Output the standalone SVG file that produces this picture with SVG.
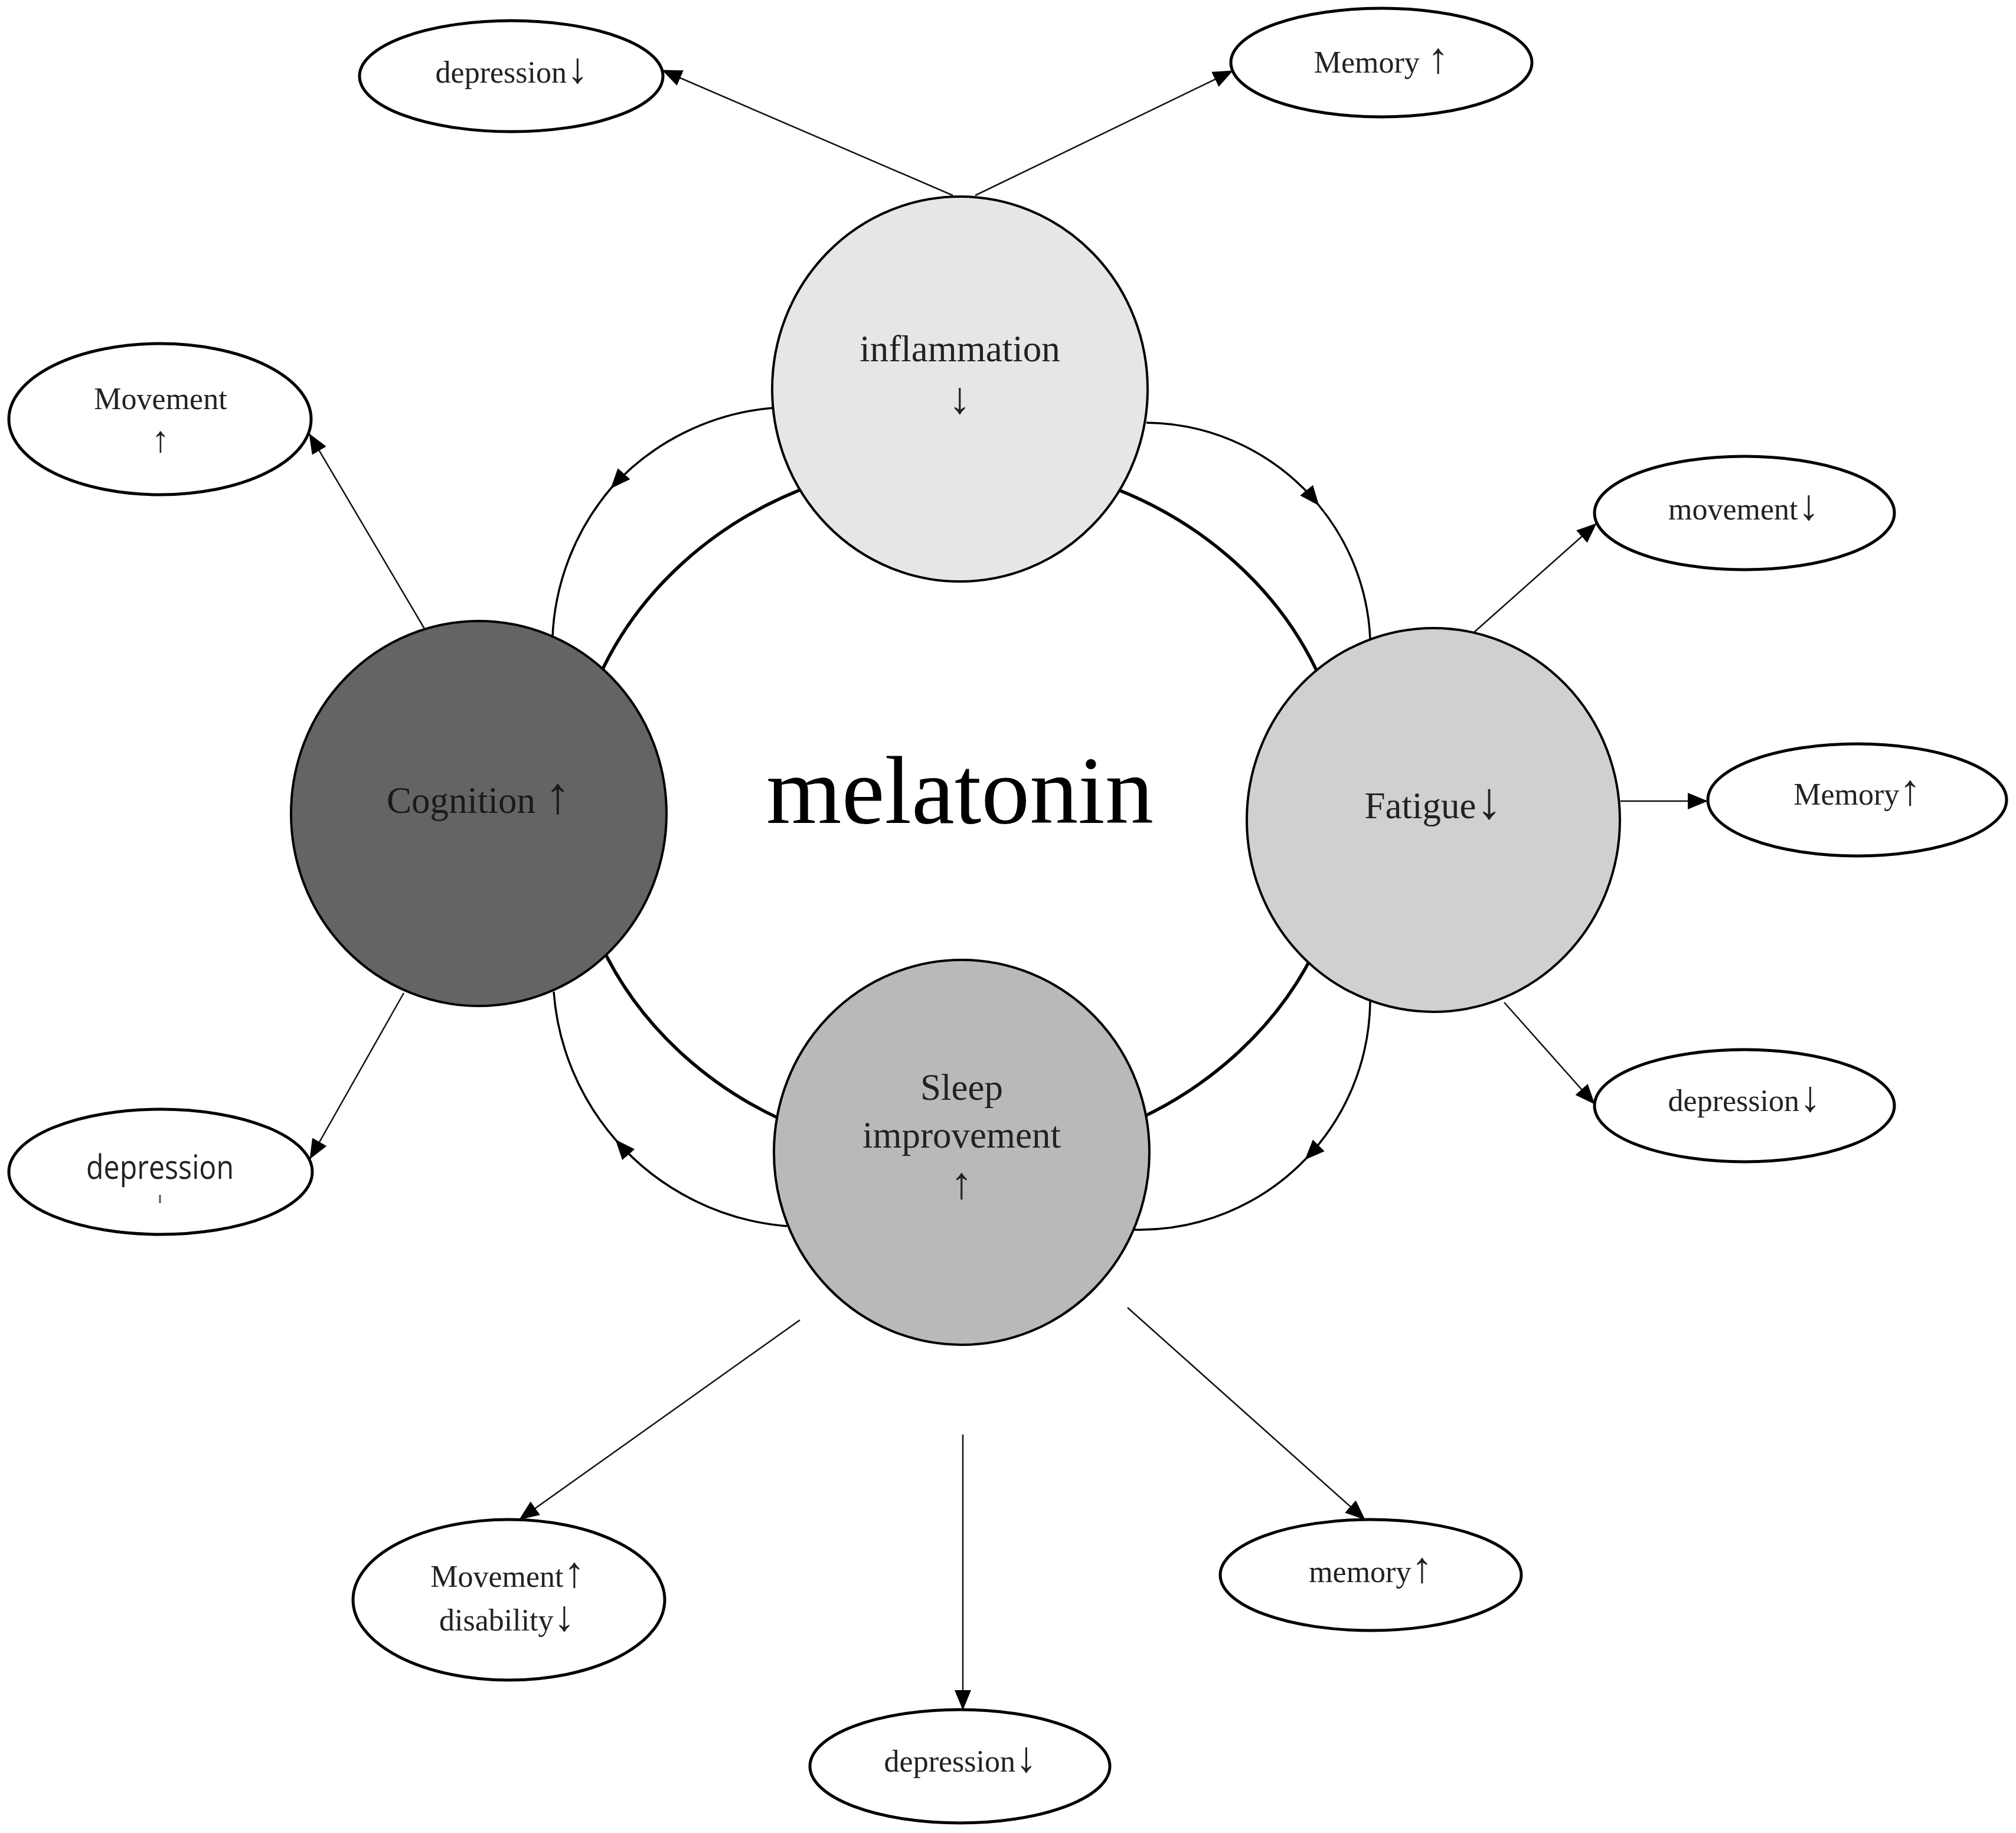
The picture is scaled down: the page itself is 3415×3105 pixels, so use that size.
<svg xmlns="http://www.w3.org/2000/svg" width="3415" height="3105" viewBox="0 0 3415 3105">
<defs>
<marker id="ah" markerUnits="userSpaceOnUse" markerWidth="34" markerHeight="30" viewBox="0 0 34 30" refX="33" refY="15" orient="auto">
<path d="M0,1 L34,15 L0,29 Z" fill="#000"/>
</marker>
<style>
.bg{fill:#fff}
.lbl{fill:#fff;stroke:#000;stroke-width:5}
.node{stroke:#000;stroke-width:4}
.t{font-family:"Liberation Serif","Times New Roman",serif;text-anchor:middle;fill:#222}
.ts{font-size:52px}
.tn{font-size:63px}
.a{font-size:140%}
.arr{fill:none;stroke:#111;stroke-width:2.5;marker-end:url(#ah)}
.arc{fill:none;stroke:#000;stroke-width:3.5}
.arcm{fill:none;stroke:#000;stroke-width:3.5;marker-end:url(#ah)}
.ring{fill:none;stroke:#000;stroke-width:5.5}
</style>
</defs>
<rect class="bg" x="0" y="0" width="3415" height="3105"/>

<g id="connectors">
<ellipse class="ring" cx="1625" cy="1370" rx="659" ry="592"/>
<path class="arcm" d="M1309,691 A416,416 0 0,0 1035,827"/>
<path class="arc" d="M1035,827 A416,416 0 0,0 936,1078"/>
<path class="arcm" d="M1942,716 A382,382 0 0,1 2234,856"/>
<path class="arc" d="M2234,856 A382,382 0 0,1 2321,1082"/>
<path class="arcm" d="M2321,1696 A391,391 0 0,1 2211,1964"/>
<path class="arc" d="M2211,1964 A391,391 0 0,1 1920,2083"/>
<path class="arcm" d="M1333,2077 A431,431 0 0,1 1043,1931"/>
<path class="arc" d="M1043,1931 A431,431 0 0,1 938,1680"/>
<line class="arr" x1="1614" y1="331" x2="1122" y2="119"/>
<line class="arr" x1="1652" y1="331" x2="2088" y2="120"/>
<line class="arr" x1="719" y1="1065" x2="524" y2="735"/>
<line class="arr" x1="684" y1="1682" x2="525" y2="1963"/>
<line class="arr" x1="2497" y1="1071" x2="2704" y2="887"/>
<line class="arr" x1="2745" y1="1357" x2="2892" y2="1357"/>
<line class="arr" x1="2548" y1="1698" x2="2701" y2="1870"/>
<line class="arr" x1="1355" y1="2236" x2="880" y2="2574"/>
<line class="arr" x1="1631" y1="2430" x2="1631" y2="2896"/>
<line class="arr" x1="1910" y1="2215" x2="2312" y2="2574"/>
</g>

<g id="node-inflammation">
<ellipse class="node" cx="1626" cy="659" rx="318" ry="326" fill="#e6e6e6"/>
<text class="t tn" x="1626" y="612">inflammation</text>
<text class="t" x="1626" y="700" style="font-size:76px">↓</text>
</g>
<g id="node-cognition">
<ellipse class="node" cx="811" cy="1378" rx="318" ry="326" fill="#646464"/>
<text class="t tn" x="811" y="1377" style="fill:#1a1a1a">Cognition <tspan class="a">↑</tspan></text>
</g>
<g id="node-fatigue">
<ellipse class="node" cx="2428" cy="1389" rx="316" ry="325" fill="#d0d0d0"/>
<text class="t tn" x="2428" y="1386">Fatigue<tspan class="a">↓</tspan></text>
</g>
<g id="node-sleep">
<ellipse class="node" cx="1629" cy="1952" rx="318" ry="326" fill="#b9b9b9"/>
<text class="t tn" x="1629" y="1863">Sleep</text>
<text class="t tn" x="1629" y="1944">improvement</text>
<text class="t" x="1629" y="2030" style="font-size:76px">↑</text>
</g>
<g id="node-melatonin">
<text class="t" x="1626" y="1394" style="font-size:164px;fill:#000">melatonin</text>
</g>

<g id="label-depression-top">
<ellipse class="lbl" cx="866" cy="129" rx="257" ry="94"/>
<text class="t ts" x="867" y="140">depression<tspan class="a">↓</tspan></text>
</g>
<g id="label-memory-top">
<ellipse class="lbl" cx="2340" cy="106" rx="255" ry="92"/>
<text class="t ts" x="2340" y="123">Memory <tspan class="a">↑</tspan></text>
</g>
<g id="label-movement-left">
<ellipse class="lbl" cx="271" cy="710" rx="256" ry="128"/>
<text class="t ts" x="272" y="693">Movement</text>
<text class="t" x="272" y="765" style="font-size:62px">↑</text>
</g>
<g id="label-depression-left">
<ellipse class="lbl" cx="272" cy="1985" rx="257" ry="106"/>
<text x="271" y="1997" text-anchor="middle" textLength="250" lengthAdjust="spacingAndGlyphs" style="font-family:'Open Sans','Liberation Sans',sans-serif;font-size:56px;fill:#222">depression</text>
<line x1="271" y1="2024" x2="271" y2="2038" stroke="#555" stroke-width="3"/>
</g>
<g id="label-movement-right">
<ellipse class="lbl" cx="2955" cy="869" rx="254" ry="96"/>
<text class="t ts" x="2954" y="880">movement<tspan class="a">↓</tspan></text>
</g>
<g id="label-memory-right">
<ellipse class="lbl" cx="3146" cy="1355" rx="253" ry="95"/>
<text class="t ts" x="3146" y="1363">Memory<tspan class="a">↑</tspan></text>
</g>
<g id="label-depression-right">
<ellipse class="lbl" cx="2955" cy="1873" rx="254" ry="95"/>
<text class="t ts" x="2955" y="1882">depression<tspan class="a">↓</tspan></text>
</g>
<g id="label-movement-disability">
<ellipse class="lbl" cx="862" cy="2710" rx="264" ry="136"/>
<text class="t ts" x="860" y="2688">Movement<tspan class="a">↑</tspan></text>
<text class="t ts" x="859" y="2762">disability<tspan class="a">↓</tspan></text>
</g>
<g id="label-depression-bottom">
<ellipse class="lbl" cx="1626" cy="2992" rx="254" ry="96"/>
<text class="t ts" x="1627" y="3001">depression<tspan class="a">↓</tspan></text>
</g>
<g id="label-memory-bottom">
<ellipse class="lbl" cx="2322" cy="2668" rx="255" ry="94"/>
<text class="t ts" x="2322" y="2680">memory<tspan class="a">↑</tspan></text>
</g>
</svg>
